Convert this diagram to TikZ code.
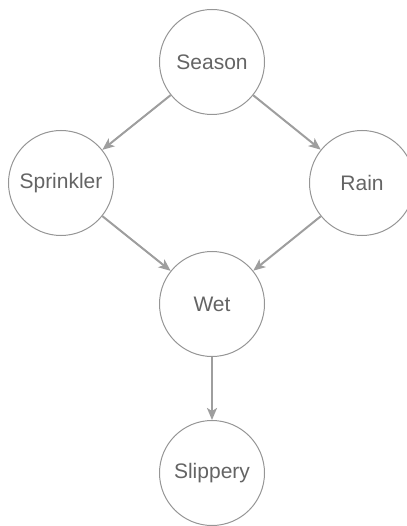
\documentclass[tikz,border=0pt]{standalone}
\usepackage{fontspec}
\setmainfont{Liberation Sans}
\usetikzlibrary{arrows.meta}
\definecolor{circlegray}{RGB}{150,150,150}
\definecolor{edgegray}{RGB}{158,158,158}
\definecolor{textgray}{RGB}{100,100,100}
\begin{document}
\begin{tikzpicture}[x=1pt,y=-1pt,minimum size=105pt,font=\fontsize{21}{25}\selectfont]
\useasboundingbox (0,0) rectangle (406,526);
\node[draw=circlegray, line width=1pt, circle, text=textgray] (1) at (212,62) {Season};
\node[draw=circlegray, line width=1pt, circle, text=textgray] (2) at (61,183) {Sprinkler};
\node[draw=circlegray, line width=1pt, circle, text=textgray] (3) at (362,183) {Rain};
\node[draw=circlegray, line width=1pt, circle, text=textgray] (4) at (212,304) {Wet};
\node[draw=circlegray, line width=1pt, circle, text=textgray] (5) at (212,473) {Slippery};

\path[draw,line width=2pt,draw=edgegray,-{Stealth[length=12pt,width=10pt,inset=3pt]}] (1) -- (2);
\path[draw,line width=2pt,draw=edgegray,-{Stealth[length=12pt,width=10pt,inset=3pt]}] (1) -- (3);
\path[draw,line width=2pt,draw=edgegray,-{Stealth[length=12pt,width=10pt,inset=3pt]}] (2) -- (4);
\path[draw,line width=2pt,draw=edgegray,-{Stealth[length=12pt,width=10pt,inset=3pt]}] (3) -- (4);
\path[draw,line width=2pt,draw=edgegray,-{Stealth[length=12pt,width=10pt,inset=3pt]}] (4) -- (5);
\end{tikzpicture}
\end{document}
